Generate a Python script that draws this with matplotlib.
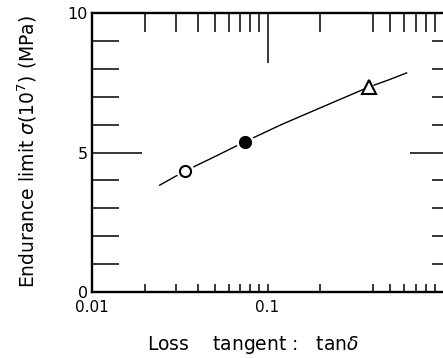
import matplotlib
matplotlib.use("Agg")
import matplotlib.pyplot as plt
import numpy as np

# points
tan_open, sig_open = 0.0337, 4.33
tan_fill, sig_fill = 0.074, 5.38
tan_tri, sig_tri = 0.38, 7.35

# hand-drawn fit curve
curve_tan = [0.0243, 0.0337, 0.05, 0.074, 0.12, 0.2, 0.38, 0.5, 0.62]
curve_sig = [3.83, 4.33, 4.85, 5.38, 6.0, 6.6, 7.35, 7.62, 7.85]

xminor = [0.02, 0.03, 0.04, 0.05, 0.06, 0.07, 0.08, 0.09,
          0.2, 0.4, 0.5, 0.6, 0.7, 0.8, 0.9]
yminor = [1, 2, 3, 4, 6, 7, 8, 9]

plt.rcParams['font.family'] = 'DejaVu Sans'
fig = plt.figure(figsize=(4.43, 3.58), dpi=100)
ax = fig.add_axes([0.2077, 0.184, 0.7923, 0.78])

ax.plot(curve_tan, curve_sig, color='black', lw=1.0, zorder=1)
ax.plot(tan_open, sig_open, 'o', ms=13, mfc='white', mec='none', zorder=2)
ax.plot(tan_open, sig_open, 'o', ms=8, mfc='white', mec='black', mew=1.5, zorder=3)
ax.plot(tan_fill, sig_fill, 'o', ms=13, mfc='white', mec='none', zorder=2)
ax.plot(tan_fill, sig_fill, 'o', ms=8.5, mfc='black', mec='black', zorder=3)
ax.plot(tan_tri, sig_tri, '^', ms=15, mfc='white', mec='none', zorder=2)
ax.plot(tan_tri, sig_tri, '^', ms=10, mfc='white', mec='black', mew=1.5, zorder=3)

ax.set_xscale('log')
ax.set_xlim(0.01, 1)
ax.set_ylim(0, 10)
ax.spines['right'].set_visible(False)
for s in ['top', 'bottom', 'left']:
    ax.spines[s].set_linewidth(1.7)

ax.set_xticks([0.01, 0.1])
ax.set_xticklabels(['0.01', '0.1'])
ax.set_xticks(xminor, minor=True)
ax.xaxis.set_minor_formatter(matplotlib.ticker.NullFormatter())
ax.set_yticks([0, 5, 10])
ax.set_yticks(yminor, minor=True)
ax.tick_params(axis='x', which='both', direction='in', length=6, width=1.1,
               labelsize=11, pad=6)
ax.tick_params(axis='y', which='major', direction='in', length=36, width=1.1,
               labelsize=11.5, pad=3)
ax.tick_params(axis='y', which='minor', direction='in', length=19.5, width=1.1)

top = ax.secondary_xaxis('top')
top.set_xticks([0.1])
top.set_xticks(xminor, minor=True)
top.tick_params(which='major', direction='in', length=36, width=1.1, labeltop=False)
top.tick_params(which='minor', direction='in', length=13.5, width=1.1, labeltop=False)
top.xaxis.set_minor_formatter(matplotlib.ticker.NullFormatter())
top.spines['top'].set_visible(False)

right = ax.secondary_yaxis('right')
right.set_yticks([5])
right.set_yticks(yminor, minor=True)
right.tick_params(which='major', direction='in', length=24, width=1.1, labelright=False)
right.tick_params(which='minor', direction='in', length=8, width=1.1, labelright=False)
right.spines['right'].set_visible(False)

ax.set_xlabel('Loss    tangent :   tan$\\delta$', fontsize=13.5, va='center')
ax.xaxis.set_label_coords(0.46, -0.19)
ax.set_ylabel('Endurance limit $\\sigma(10^7)$ (MPa)', fontsize=13.5, va='center')
ax.yaxis.set_label_coords(-0.185, 0.505)

fig.savefig('out.png', dpi=100)
